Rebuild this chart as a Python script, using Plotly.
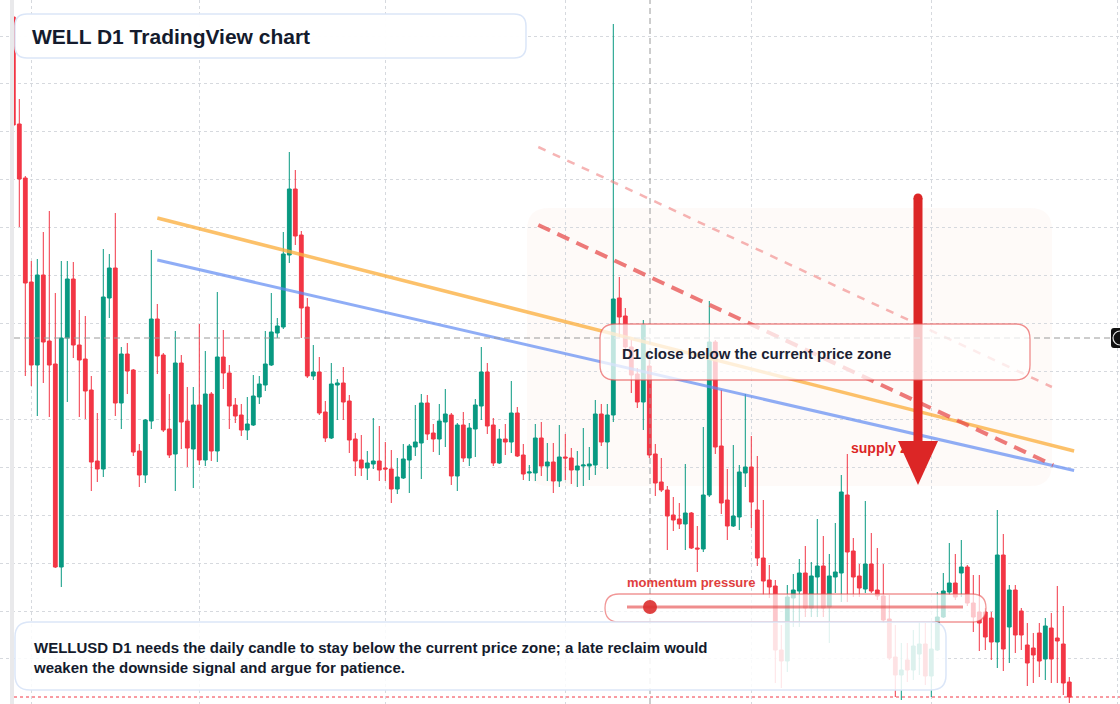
import pandas as pd
import plotly.graph_objects as go

# ---------------- data (daily candles, WELL D1) ----------------
start_date = "2025-01-29"

opens = [
    168.3, 157.6, 152.2, 141.8, 133.5, 142.5, 135.9, 133.6, 113.3, 136.2,
    142.1, 135.5, 134.1, 131.0, 123.9, 123.1, 140.2, 143.2, 129.7, 134.6,
    133.0, 124.9, 122.5, 127.9, 138.1, 134.5, 127.1, 124.6, 133.7, 127.9,
    125.1, 129.5, 124.0, 130.6, 124.9, 134.3, 132.7, 129.5, 128.5, 127.0,
    127.5, 130.3, 131.5, 133.5, 136.7, 137.3, 144.5, 151.1, 146.5, 139.3,
    132.4, 132.8, 128.8, 126.2, 131.5, 131.7, 129.9, 126.1, 124.0, 123.2,
    123.6, 123.9, 123.2, 123.1, 121.1, 122.2, 124.0, 125.3, 125.7, 129.7,
    126.7, 126.1, 127.8, 128.5, 122.4, 127.5, 124.2, 127.1, 129.4, 132.8,
    127.5, 123.7, 126.1, 125.8, 128.7, 124.5, 122.7, 122.7, 126.2, 123.4,
    123.8, 121.9, 124.3, 124.2, 123.0, 123.4, 123.4, 123.5, 128.6, 125.8,
    128.5, 140.2, 138.4, 135.3, 132.6, 129.8, 133.4, 124.6, 121.8, 121.0,
    118.5, 118.1, 117.6, 118.7, 115.2, 115.1, 120.5, 135.8, 125.4, 120.0,
    117.4, 118.3, 122.7, 123.3, 119.0, 114.2, 112.0, 111.4, 105.0, 103.9,
    110.2, 110.9, 112.7, 109.2, 112.3, 113.4, 109.3, 112.3, 112.7, 120.5,
    114.9, 112.4, 111.1, 113.6, 111.0, 110.4, 108.1, 104.3, 102.5, 104.0,
    103.0, 104.6, 105.6, 102.4, 105.0, 108.3, 110.8, 111.7, 112.7, 113.3,
    109.7, 108.8, 108.8, 108.2, 105.8, 114.5, 107.3, 111.0, 108.9, 105.5,
    105.2, 106.7, 104.1, 107.2, 106.2, 105.6, 101.8,
]
highs = [
    168.4, 160.1, 152.4, 143.9, 144.1, 146.8, 148.9, 140.7, 143.9, 143.9,
    143.8, 139.0, 138.4, 132.4, 128.7, 145.1, 144.6, 148.7, 135.3, 135.7,
    133.1, 125.6, 128.1, 145.0, 139.6, 134.7, 130.6, 136.9, 134.5, 131.3,
    131.3, 137.6, 134.9, 130.8, 140.8, 137.0, 133.5, 130.2, 129.6, 130.3,
    132.5, 132.4, 136.9, 140.7, 138.2, 146.8, 154.8, 153.0, 146.9, 140.2,
    135.5, 134.3, 129.9, 133.7, 132.1, 133.3, 130.5, 126.7, 126.5, 124.9,
    128.2, 127.4, 125.8, 125.0, 124.2, 125.6, 125.6, 129.5, 130.6, 130.5,
    127.6, 129.6, 131.1, 128.7, 127.7, 128.8, 127.7, 130.1, 135.3, 133.7,
    128.2, 127.1, 127.6, 131.9, 129.3, 125.6, 123.5, 127.6, 127.8, 125.7,
    125.7, 127.5, 126.6, 125.2, 124.9, 127.2, 125.3, 130.0, 129.6, 129.6,
    167.6, 142.3, 139.2, 136.0, 133.2, 138.0, 134.5, 125.6, 124.2, 121.4,
    120.3, 119.7, 123.6, 118.8, 117.4, 127.3, 139.9, 136.0, 131.0, 123.1,
    125.5, 123.5, 130.6, 126.4, 124.4, 120.0, 113.5, 112.0, 107.5, 111.5,
    112.6, 114.1, 115.4, 113.8, 118.1, 116.4, 114.6, 117.7, 122.5, 124.6,
    116.2, 113.6, 119.9, 116.7, 115.2, 113.6, 110.5, 107.5, 105.7, 105.7,
    107.0, 107.8, 107.7, 107.7, 110.8, 112.7, 115.7, 114.6, 116.0, 113.5,
    112.5, 112.5, 109.2, 108.8, 119.0, 116.6, 111.5, 111.5, 109.2, 107.7,
    106.7, 107.7, 108.2, 108.7, 111.4, 109.4, 102.3,
]
lows = [
    157.4, 147.3, 132.4, 131.4, 128.4, 131.7, 128.3, 113.2, 111.3, 129.8,
    134.2, 128.3, 128.1, 120.9, 121.8, 122.3, 138.2, 128.4, 127.1, 130.6,
    124.4, 121.3, 121.7, 127.1, 132.6, 126.8, 124.2, 120.9, 125.1, 123.3,
    121.2, 123.5, 123.4, 123.9, 123.8, 131.1, 127.1, 127.7, 126.4, 126.0,
    127.4, 129.6, 130.9, 133.4, 136.2, 137.1, 143.7, 145.5, 136.2, 132.2,
    132.0, 128.5, 125.8, 126.1, 128.0, 128.0, 124.7, 122.4, 122.4, 122.0,
    123.1, 121.9, 121.9, 119.7, 120.6, 122.1, 120.7, 124.4, 122.1, 126.0,
    124.8, 124.5, 125.3, 121.5, 120.9, 123.8, 123.4, 124.3, 128.0, 126.6,
    123.4, 123.6, 124.5, 124.7, 124.3, 122.0, 121.9, 121.9, 122.4, 121.9,
    120.7, 121.3, 122.0, 121.6, 121.3, 121.4, 122.0, 122.5, 125.4, 123.1,
    127.8, 136.3, 134.8, 130.7, 129.2, 127.0, 124.2, 120.4, 120.8, 115.0,
    116.9, 117.1, 115.0, 115.1, 112.8, 114.8, 120.3, 124.6, 118.6, 116.0,
    117.3, 117.0, 121.3, 117.2, 113.4, 110.5, 110.2, 101.7, 101.2, 102.8,
    107.3, 107.3, 108.3, 108.3, 108.3, 108.3, 105.7, 110.7, 109.8, 109.8,
    110.3, 110.3, 110.7, 110.7, 110.0, 107.7, 104.0, 100.3, 100.0, 101.8,
    102.0, 102.5, 101.5, 100.3, 104.9, 108.2, 110.5, 110.0, 110.3, 109.4,
    106.8, 104.9, 105.0, 104.0, 103.2, 102.9, 103.7, 104.7, 105.0, 101.4,
    101.7, 102.3, 102.0, 101.7, 101.7, 100.5, 99.7,
]
closes = [
    157.5, 152.1, 141.7, 133.5, 142.5, 135.8, 133.5, 113.3, 136.2, 142.1,
    135.5, 134.0, 130.9, 123.8, 123.1, 140.3, 143.2, 129.7, 134.6, 132.9,
    124.8, 122.5, 128.0, 138.1, 134.4, 127.0, 124.5, 133.7, 127.8, 125.2,
    129.5, 124.0, 130.6, 124.9, 134.3, 132.7, 129.4, 128.4, 127.0, 127.6,
    130.4, 131.6, 133.6, 136.8, 137.4, 144.6, 151.1, 146.4, 139.2, 132.4,
    132.8, 128.7, 126.2, 131.6, 131.7, 129.8, 126.0, 123.9, 123.2, 123.7,
    123.9, 123.0, 123.1, 121.1, 122.3, 124.1, 125.4, 125.8, 129.7, 126.6,
    126.1, 127.9, 128.6, 122.4, 127.5, 124.2, 127.2, 129.5, 132.8, 127.4,
    123.7, 126.1, 125.8, 128.7, 124.4, 122.6, 122.8, 126.2, 123.4, 123.8,
    121.9, 124.3, 124.2, 123.0, 123.4, 123.5, 123.6, 128.6, 125.8, 128.5,
    140.1, 138.3, 135.3, 132.5, 129.8, 137.5, 124.5, 121.7, 121.0, 118.4,
    118.0, 117.6, 118.7, 115.2, 115.1, 120.5, 135.8, 125.3, 119.7, 117.4,
    118.4, 122.8, 123.3, 119.8, 114.2, 111.9, 111.3, 105.0, 103.9, 110.3,
    111.0, 112.7, 109.2, 112.4, 113.4, 109.2, 112.4, 112.8, 120.8, 114.8,
    112.3, 111.2, 113.6, 110.9, 110.4, 108.0, 104.2, 102.5, 103.0, 103.0,
    105.4, 105.6, 102.4, 105.1, 108.3, 110.9, 111.7, 110.3, 113.3, 109.7,
    108.3, 107.7, 106.3, 105.8, 114.5, 105.1, 111.0, 106.5, 106.5, 103.7,
    104.5, 103.9, 107.4, 104.1, 105.9, 101.7, 100.3,
]

# drawn trend lines: [start candle index, end candle index], [start price, end price]
orange_idx, orange_price = [24.0, 176.8], [148.2, 124.9]
blue_idx, blue_price = [24.0, 176.8], [144.0, 122.95]
red_main_idx, red_main_price = [87.5, 173.3], [147.5, 123.5]
red_upper_idx, red_upper_price = [87.5, 173.1], [155.3, 131.3]

title_text = "WELL D1 TradingView chart"
zone_text = "D1 close below the current price zone"
supply_text = "supply zone"
momentum_text = "momentum pressure"
note_text = ("WELLUSD D1 needs the daily candle to stay below the current price zone; a late reclaim would"
             "<br>weaken the downside signal and argue for patience.")

# ---------------- figure ----------------
W, H = 1120, 704
dates = pd.date_range(start_date, periods=len(opens), freq="D")
d0 = dates[0]


def at(idx):
    return str(d0 + pd.Timedelta(days=idx))


def px(x):
    return x / W


def py(y):
    return 1 - y / H


def rrect_path(x0, y0, x1, y1, r):
    pts = [
        ("M", [(x0 + r, y0)]), ("L", [(x1 - r, y0)]), ("Q", [(x1, y0), (x1, y0 + r)]),
        ("L", [(x1, y1 - r)]), ("Q", [(x1, y1), (x1 - r, y1)]), ("L", [(x0 + r, y1)]),
        ("Q", [(x0, y1), (x0, y1 - r)]), ("L", [(x0, y0 + r)]), ("Q", [(x0, y0), (x0 + r, y0)]),
    ]
    s = ""
    for cmd, coords in pts:
        s += cmd + " " + " ".join(f"{px(a):.5f},{py(b):.5f}" for a, b in coords) + " "
    return s + "Z"


fig = go.Figure()
fig.add_trace(go.Candlestick(
    x=dates, open=opens, high=highs, low=lows, close=closes,
    increasing=dict(line=dict(color="#089981", width=1), fillcolor="#089981"),
    decreasing=dict(line=dict(color="#f23645", width=1), fillcolor="#f23645"),
    whiskerwidth=0, hoverinfo="skip", showlegend=False,
))

shapes = []
# faint supply zone
shapes.append(dict(type="path", path=rrect_path(527, 208, 1052, 486, 22), xref="paper", yref="paper",
                   fillcolor="rgba(240,190,160,0.07)", line=dict(width=0), layer="between"))
# left strip
shapes.append(dict(type="rect", xref="paper", yref="paper", x0=px(10), x1=px(14), y0=0, y1=1,
                   fillcolor="#e9e9eb", line=dict(width=0), layer="above"))
# trend lines
for ix, pr, col, wd, dash in [
    (orange_idx, orange_price, "rgba(251,176,64,0.78)", 3.5, "solid"),
    (blue_idx, blue_price, "rgba(96,138,242,0.7)", 3, "solid"),
    (red_upper_idx, red_upper_price, "rgba(240,130,130,0.6)", 2.5, "8px,8px"),
    (red_main_idx, red_main_price, "rgba(230,70,70,0.72)", 4, "13px,8px"),
]:
    shapes.append(dict(type="line", xref="x", yref="y", x0=at(ix[0]), x1=at(ix[1]), y0=pr[0], y1=pr[1],
                       line=dict(color=col, width=wd, dash=dash), layer="above"))
# red arrow
shapes.append(dict(type="line", xref="paper", yref="paper", x0=px(918), x1=px(918), y0=py(198), y1=py(446),
                   line=dict(color="#dc2626", width=9), layer="above"))
shapes.append(dict(type="circle", xref="paper", yref="paper", x0=px(913.5), x1=px(922.5), y0=py(193.5), y1=py(202.5),
                   fillcolor="#dc2626", line=dict(width=0), layer="above"))
shapes.append(dict(type="path", xref="paper", yref="paper",
                   path=f"M {px(898):.5f},{py(441):.5f} L {px(938):.5f},{py(441):.5f} L {px(918):.5f},{py(485):.5f} Z",
                   fillcolor="#dc2626", line=dict(width=0), layer="above"))
# crosshair
shapes.append(dict(type="line", xref="paper", yref="paper", x0=px(14), x1=px(1111), y0=py(338), y1=py(338),
                   line=dict(color="#9a9a9a", width=1, dash="6px,4px"), layer="above"))
shapes.append(dict(type="line", xref="paper", yref="paper", x0=px(650), x1=px(650), y0=0, y1=1,
                   line=dict(color="#9a9a9a", width=1, dash="6px,4px"), layer="above"))
# last price line
shapes.append(dict(type="line", xref="paper", yref="paper", x0=px(14), x1=1, y0=py(697), y1=py(697),
                   line=dict(color="#f23645", width=1, dash="dot"), layer="above"))
# D1 zone box
shapes.append(dict(type="path", path=rrect_path(600, 324, 1030, 380, 15), xref="paper", yref="paper",
                   fillcolor="rgba(255,255,255,0.75)", line=dict(color="rgba(232,80,80,0.65)", width=1.3),
                   layer="above"))
# momentum pill
shapes.append(dict(type="path", path=rrect_path(605, 594, 986, 622, 14), xref="paper", yref="paper",
                   fillcolor="rgba(255,255,255,0.72)", line=dict(color="rgba(232,80,80,0.6)", width=1.3),
                   layer="above"))
shapes.append(dict(type="line", xref="paper", yref="paper", x0=px(627), x1=px(963), y0=py(607), y1=py(607),
                   line=dict(color="rgba(230,80,80,0.65)", width=3), layer="above"))
shapes.append(dict(type="circle", xref="paper", yref="paper", x0=px(643), x1=px(657), y0=py(600), y1=py(614),
                   fillcolor="rgba(220,45,45,0.9)", line=dict(width=0), layer="above"))
# bottom note box
shapes.append(dict(type="path", path=rrect_path(15, 622, 946, 690, 15), xref="paper", yref="paper",
                   fillcolor="rgba(255,255,255,0.86)", line=dict(color="#dbe6f8", width=1.5), layer="above"))
# title box
shapes.append(dict(type="path", path=rrect_path(15, 14, 526, 58, 12), xref="paper", yref="paper",
                   fillcolor="rgba(255,255,255,0.96)", line=dict(color="#dbe6f8", width=1.5), layer="above"))
# crosshair price tag (right edge)
shapes.append(dict(type="path", path=rrect_path(1111, 328, 1130, 348, 3), xref="paper", yref="paper",
                   fillcolor="#111111", line=dict(width=0), layer="above"))
shapes.append(dict(type="circle", xref="paper", yref="paper", x0=px(1113), x1=px(1127), y0=py(331), y1=py(345),
                   fillcolor="rgba(0,0,0,0)", line=dict(color="#e5e5e5", width=1.2), layer="above"))

font_family = "Liberation Sans, Arial, sans-serif"
annotations = [
    dict(text=f"<b>{title_text}</b>", x=px(30), y=py(36), xref="paper", yref="paper", xanchor="left",
         yanchor="middle", showarrow=False, font=dict(family=font_family, size=21, color="#141b2d")),
    dict(text=f"<b>{zone_text}</b>", x=px(620), y=py(353), xref="paper", yref="paper", xanchor="left",
         yanchor="middle", showarrow=False, font=dict(family=font_family, size=15, color="#1b2233")),
    dict(text=f"<b>{supply_text}</b>", x=px(849), y=py(448), xref="paper", yref="paper", xanchor="left",
         yanchor="middle", showarrow=False, font=dict(family=font_family, size=14, color="#dc2626")),
    dict(text=f"<b>{momentum_text}</b>", x=px(625), y=py(582), xref="paper", yref="paper", xanchor="left",
         yanchor="middle", showarrow=False, font=dict(family=font_family, size=13, color="#e03e3e")),
    dict(text=f"<b>{note_text}</b>", x=px(31), y=py(657.5), xref="paper", yref="paper", xanchor="left",
         yanchor="middle", align="left", showarrow=False,
         font=dict(family=font_family, size=15, color="#141b2d")),
]

fig.update_layout(
    width=W, height=H, autosize=False,
    margin=dict(l=0, r=0, t=0, b=0, pad=0),
    paper_bgcolor="white", plot_bgcolor="white",
    showlegend=False, boxgap=0.1, hovermode=False,
    shapes=shapes, annotations=annotations,
    xaxis=dict(
        type="date", range=[at(-13.3 / 6), at((W - 13.3) / 6)],
        rangeslider=dict(visible=False), showticklabels=False, zeroline=False, showline=False,
        showgrid=True, gridcolor="#d6d9de", griddash="dot", gridwidth=1,
        tick0="2025-02-01", dtick="M1", ticks="",
    ),
    yaxis=dict(
        range=[170 - H / 10, 170], showticklabels=False, zeroline=False, showline=False,
        showgrid=True, gridcolor="#d6d9de", griddash="dot", gridwidth=1,
        tick0=166.4, dtick=4.792, ticks="",
    ),
)

fig.write_html("out.html", config=dict(displayModeBar=False))
